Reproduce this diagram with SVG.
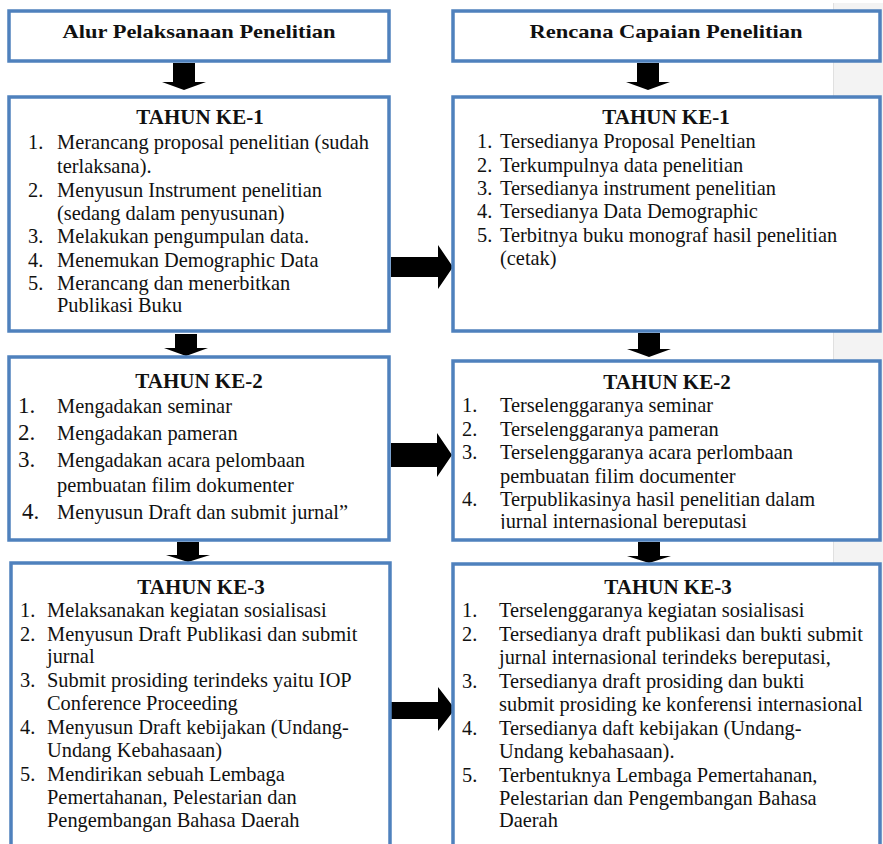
<svg xmlns="http://www.w3.org/2000/svg" width="883" height="844" viewBox="0 0 883 844">
<style>
.box{fill:#ffffff;stroke:#4f81bd;stroke-width:3.5}
.t{font-family:"Liberation Serif","Times New Roman",serif;font-size:20.4px;fill:#111}
.n{font-family:"Liberation Serif","Times New Roman",serif;font-size:20.4px;fill:#111}
.n2{font-family:"Liberation Serif","Times New Roman",serif;font-size:23px;fill:#111}
.h{font-family:"Liberation Serif","Times New Roman",serif;font-size:21px;font-weight:bold;fill:#111;text-anchor:middle}
.hd{font-family:"Liberation Serif","Times New Roman",serif;font-size:19px;font-weight:bold;fill:#111;text-anchor:middle}
.ar{fill:#000}
</style>
<defs>
<clipPath id="clipR2"><rect x="453" y="361" width="427" height="168"/></clipPath>
</defs>
<rect x="0" y="0" width="883" height="844" fill="#ffffff"/>
<rect x="833" y="3" width="50" height="841" fill="#f3f3f3"/>
<line x1="833.5" y1="3" x2="833.5" y2="844" stroke="#e0e0e0" stroke-width="1"/>

<g id="connectors">
<path class="ar" d="M173,63 H195 V82 H206 L184,90 L162,82 H173 Z"/>
<path class="ar" d="M637,63 H659 V82 H670 L648,90 L626,82 H637 Z"/>
<path class="ar" d="M175,334 H197 V348 H208 L186,356 L164,348 H175 Z"/>
<path class="ar" d="M638,333 H660 V349 H671 L649,357 L627,349 H638 Z"/>
<path class="ar" d="M177,542 H199 V555 H210 L188,562 L166,555 H177 Z"/>
<path class="ar" d="M638,542 H660 V556 H671 L649,563 L627,556 H638 Z"/>
<path class="ar" d="M391,257 H438 V245 L453,267 L438,289 V277 H391 Z"/>
<path class="ar" d="M391,443 H437 V433 L452,455 L437,477 V467 H391 Z"/>
<path class="ar" d="M391,702 H438 V687 L455,709 L438,731 V719 H391 Z"/>
</g>

<g id="header-left">
<rect class="box" x="9" y="11" width="380" height="50"/>
<text class="hd" x="199" y="38" textLength="273" lengthAdjust="spacingAndGlyphs">Alur  Pelaksanaan Penelitian</text>
</g>
<g id="header-right">
<rect class="box" x="453" y="11" width="427" height="50"/>
<text class="hd" x="666" y="38" textLength="273" lengthAdjust="spacingAndGlyphs">Rencana Capaian Penelitian</text>
</g>

<g id="left-year1">
<rect class="box" x="9" y="97" width="380" height="234"/>
<text class="h" x="200" y="124">TAHUN KE-1</text>
<text class="n" x="28" y="149">1.</text><text class="t" x="57" y="149">Merancang proposal penelitian (sudah</text>
<text class="t" x="57" y="173">terlaksana).</text>
<text class="n" x="28" y="197">2.</text><text class="t" x="57" y="197">Menyusun Instrument penelitian</text>
<text class="t" x="57" y="220">(sedang dalam penyusunan)</text>
<text class="n" x="28" y="243">3.</text><text class="t" x="57" y="243">Melakukan pengumpulan data.</text>
<text class="n" x="28" y="267">4.</text><text class="t" x="57" y="267">Menemukan Demographic Data</text>
<text class="n" x="28" y="290">5.</text><text class="t" x="57" y="290">Merancang dan menerbitkan</text>
<text class="t" x="57" y="312">Publikasi Buku</text>
</g>

<g id="right-year1">
<rect class="box" x="453" y="97" width="427" height="234"/>
<text class="h" x="666" y="124">TAHUN KE-1</text>
<text class="n" x="477" y="148">1.</text><text class="t" x="500" y="148">Tersedianya Proposal Peneltian</text>
<text class="n" x="477" y="172">2.</text><text class="t" x="500" y="172">Terkumpulnya data penelitian</text>
<text class="n" x="477" y="195">3.</text><text class="t" x="500" y="195">Tersedianya instrument penelitian</text>
<text class="n" x="477" y="218">4.</text><text class="t" x="500" y="218">Tersedianya Data Demographic</text>
<text class="n" x="477" y="242">5.</text><text class="t" x="500" y="242">Terbitnya buku monograf hasil penelitian</text>
<text class="t" x="500" y="265">(cetak)</text>
</g>

<g id="left-year2">
<rect class="box" x="9" y="357" width="380" height="183"/>
<text class="h" x="199" y="388">TAHUN KE-2</text>
<text class="n2" x="18" y="413">1.</text><text class="t" x="57" y="413">Mengadakan seminar</text>
<text class="n2" x="18" y="440">2.</text><text class="t" x="57" y="440">Mengadakan pameran</text>
<text class="n2" x="18" y="467">3.</text><text class="t" x="57" y="467">Mengadakan acara pelombaan</text>
<text class="t" x="57" y="492">pembuatan filim dokumenter</text>
<text class="n2" x="22" y="519">4.</text><text class="t" x="57" y="519">Menyusun Draft dan submit jurnal”</text>
</g>

<g id="right-year2">
<rect class="box" x="453" y="361" width="427" height="179"/>
<text class="h" x="667" y="389">TAHUN KE-2</text>
<g clip-path="url(#clipR2)">
<text class="n" x="462" y="412">1.</text><text class="t" x="500" y="412">Terselenggaranya  seminar</text>
<text class="n" x="462" y="436">2.</text><text class="t" x="500" y="436">Terselenggaranya  pameran</text>
<text class="n" x="462" y="459">3.</text><text class="t" x="500" y="459">Terselenggaranya  acara  perlombaan</text>
<text class="t" x="500" y="483">pembuatan filim documenter</text>
<text class="n" x="462" y="506">4.</text><text class="t" x="500" y="506">Terpublikasinya hasil penelitian dalam</text>
<text class="t" x="500" y="528">jurnal internasional bereputasi</text>
</g>
</g>

<g id="left-year3">
<rect class="box" x="11" y="563" width="379" height="300"/>
<text class="h" x="201" y="594">TAHUN KE-3</text>
<text class="n" x="20" y="617">1.</text><text class="t" x="47" y="617">Melaksanakan kegiatan sosialisasi</text>
<text class="n" x="20" y="641">2.</text><text class="t" x="47" y="641">Menyusun Draft Publikasi dan submit</text>
<text class="t" x="47" y="663">jurnal</text>
<text class="n" x="20" y="687">3.</text><text class="t" x="47" y="687">Submit prosiding terindeks yaitu IOP</text>
<text class="t" x="47" y="710">Conference Proceeding</text>
<text class="n" x="20" y="734">4.</text><text class="t" x="47" y="734">Menyusun Draft kebijakan (Undang-</text>
<text class="t" x="47" y="757">Undang Kebahasaan)</text>
<text class="n" x="20" y="781">5.</text><text class="t" x="47" y="781">Mendirikan sebuah Lembaga</text>
<text class="t" x="47" y="804">Pemertahanan, Pelestarian  dan</text>
<text class="t" x="47" y="827">Pengembangan Bahasa Daerah</text>
</g>

<g id="right-year3">
<rect class="box" x="453" y="564" width="427" height="300"/>
<text class="h" x="668" y="594">TAHUN KE-3</text>
<text class="n" x="462" y="617">1.</text><text class="t" x="499" y="617">Terselenggaranya  kegiatan  sosialisasi</text>
<text class="n" x="462" y="641">2.</text><text class="t" x="499" y="641">Tersedianya draft publikasi dan bukti submit</text>
<text class="t" x="499" y="664">jurnal internasional terindeks bereputasi,</text>
<text class="n" x="462" y="688">3.</text><text class="t" x="499" y="688">Tersedianya draft prosiding dan bukti</text>
<text class="t" x="499" y="711">submit prosiding ke konferensi internasional</text>
<text class="n" x="462" y="735">4.</text><text class="t" x="499" y="735">Tersedianya daft kebijakan (Undang-</text>
<text class="t" x="499" y="758">Undang kebahasaan).</text>
<text class="n" x="462" y="782">5.</text><text class="t" x="499" y="782">Terbentuknya Lembaga Pemertahanan,</text>
<text class="t" x="499" y="805">Pelestarian  dan Pengembangan Bahasa</text>
<text class="t" x="499" y="827">Daerah</text>
</g>
</svg>
